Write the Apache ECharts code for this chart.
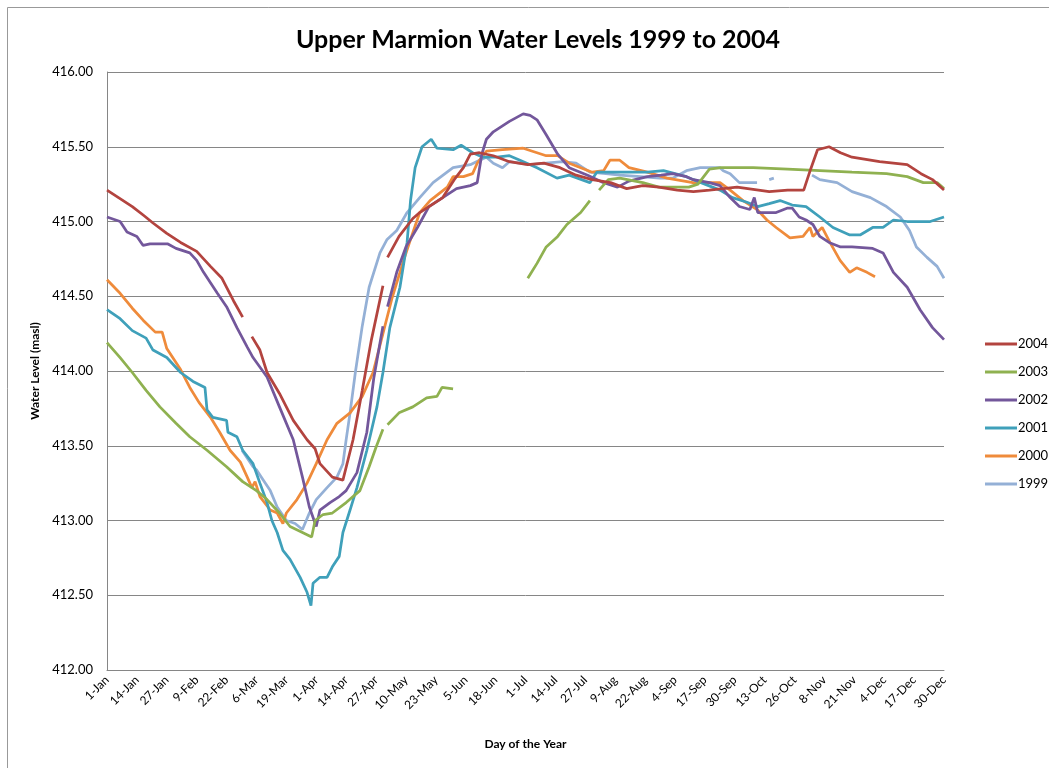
<!DOCTYPE html>
<html>
<head>
<meta charset="utf-8">
<script src="https://cdn.jsdelivr.net/npm/echarts@6/dist/echarts.min.js"></script>
<style>
  html, body { margin: 0; padding: 0; background: #fff; }
  #chart { width: 1049px; height: 768px; }
</style>
</head>
<body>
<div id="chart"></div>
<script>
// tick labels every 13 days (leap-year calendar, day 0 = 1-Jan)
const tickLabels = ['1-Jan', '14-Jan', '27-Jan', '9-Feb', '22-Feb', '6-Mar', '19-Mar', '1-Apr', '14-Apr',
  '27-Apr', '10-May', '23-May', '5-Jun', '18-Jun', '1-Jul', '14-Jul', '27-Jul', '9-Aug', '22-Aug',
  '4-Sep', '17-Sep', '30-Sep', '13-Oct', '26-Oct', '8-Nov', '21-Nov', '4-Dec', '17-Dec', '30-Dec'];

const years = ['2004', '2003', '2002', '2001', '2000', '1999'];

// [day of year, level (masl)], null level = gap in record
const level2004 = [[0, 415.21], [5, 415.16], [11, 415.10], [16, 415.04], [20, 414.99], [26, 414.92], [32, 414.86],
  [39, 414.80], [45, 414.70], [50, 414.62], [55, 414.47], [59, 414.36], [60, null],
  [63, 414.23], [66.5, 414.14], [69.6, 413.99], [75, 413.85], [81, 413.67], [87, 413.54], [90.5, 413.48],
  [92.6, 413.38], [98, 413.29], [102.6, 413.27], [107, 413.54], [111, 413.87], [115, 414.21], [120, 414.57], [121, null],
  [122, 414.76], [127, 414.90], [133, 415.02], [136, 415.06], [146, 415.16], [151, 415.28], [155, 415.36],
  [158, 415.45], [162, 415.46], [168, 415.44], [175, 415.40], [183, 415.38], [190, 415.39], [197, 415.36],
  [204, 415.31], [211, 415.28], [219, 415.26], [226, 415.22], [233, 415.24], [240, 415.23], [248, 415.21],
  [255, 415.20], [262, 415.21], [274, 415.23], [288, 415.20], [296, 415.21], [303, 415.21], [306, 415.35],
  [309, 415.48], [314, 415.50], [319, 415.46], [324, 415.43], [336, 415.40], [348, 415.38], [354, 415.32],
  [359, 415.28], [364, 415.21]];

const level2003 = [[0, 414.19], [5.7, 414.09], [11, 413.99], [17, 413.87], [23, 413.76], [30, 413.65], [36, 413.56],
  [43.5, 413.47], [52, 413.36], [59, 413.26], [65, 413.20], [69.6, 413.14], [75, 413.05], [79.6, 412.96],
  [85, 412.92], [89, 412.89], [90.5, 413.00], [94, 413.04], [98, 413.05], [104, 413.12], [110, 413.20],
  [114, 413.36], [117, 413.49], [120, 413.61], [121, null],
  [122, 413.64], [127, 413.72], [133, 413.76], [139, 413.82], [143.5, 413.83], [145.7, 413.89], [150.5, 413.88], [151, null],
  [183, 414.62], [187, 414.72], [191, 414.83], [196, 414.90], [200, 414.98], [206, 415.06], [210, 415.14], [212, null],
  [214, 415.21], [218, 415.28], [223, 415.29], [233, 415.26], [240, 415.23], [253, 415.23], [257, 415.25],
  [262, 415.35], [267, 415.36], [281, 415.36], [296, 415.35], [310, 415.34], [324, 415.33], [339, 415.32],
  [348, 415.30], [355, 415.26], [361, 415.26], [364, 415.22]];

const level2002 = [[0, 415.03], [5.7, 415.00], [8.7, 414.93], [13, 414.90], [15.7, 414.84], [18.7, 414.85],
  [26.5, 414.85], [30, 414.82], [36, 414.79], [39, 414.74], [42, 414.66], [48, 414.52], [52, 414.43],
  [56.5, 414.29], [61, 414.16], [63.5, 414.09], [69.6, 413.96], [75, 413.76], [81, 413.54], [85, 413.29],
  [88, 413.09], [91, 412.96], [92.6, 413.07], [97, 413.12], [101, 413.16], [104, 413.20], [108.7, 413.32],
  [113, 413.59], [116, 413.95], [120, 414.30], [121, null],
  [122, 414.43], [126, 414.66], [130, 414.83], [135, 414.96], [140, 415.10], [146, 415.16], [152, 415.22],
  [158, 415.24], [161, 415.26], [163, 415.45], [165, 415.55], [168, 415.60], [175, 415.67], [181, 415.72],
  [184, 415.71], [187, 415.68], [191, 415.58], [196, 415.45], [201, 415.36], [209, 415.31], [216, 415.26],
  [222, 415.23], [227, 415.27], [235, 415.30], [241, 415.31], [246, 415.32], [252, 415.30], [255, 415.28],
  [262, 415.26], [266.6, 415.24], [271, 415.16], [275, 415.10], [279.6, 415.08], [281.5, 415.16], [283, 415.06],
  [291, 415.06], [296, 415.09], [298, 415.09], [301, 415.03], [304, 415.01], [307, 414.98], [310, 414.90],
  [314, 414.86], [319, 414.83], [324, 414.83], [333, 414.82], [337.5, 414.79], [342, 414.66], [348, 414.56],
  [353.6, 414.41], [359, 414.29], [364, 414.21]];

const level2001 = [[0, 414.41], [5.7, 414.35], [11, 414.27], [17, 414.22], [20, 414.14], [26, 414.09], [32, 413.99],
  [37.4, 413.93], [42.6, 413.89], [43.5, 413.74], [46, 413.69], [52, 413.67], [52.6, 413.59], [56.5, 413.56],
  [59, 413.47], [63.5, 413.38], [66.5, 413.25], [69.6, 413.12], [71.7, 413.00], [74, 412.92], [76.5, 412.80],
  [79.6, 412.74], [84, 412.62], [87, 412.52], [88.7, 412.43], [89.6, 412.58], [92.6, 412.62], [95.7, 412.62],
  [98, 412.69], [101, 412.76], [102.6, 412.92], [105.7, 413.07], [108.7, 413.22], [113, 413.47], [117.4, 413.76],
  [120, 413.99], [123, 414.29], [127.4, 414.56], [130.5, 414.86], [132, 415.14], [134, 415.36], [137, 415.50],
  [141, 415.55], [143.5, 415.49], [150.5, 415.48], [154, 415.51], [159, 415.46], [163.5, 415.43], [169.6, 415.43],
  [175, 415.44], [179.6, 415.41], [187, 415.36], [195.7, 415.29], [201, 415.31], [210, 415.26], [213, 415.33],
  [226, 415.33], [235, 415.33], [242, 415.34], [252, 415.30], [255, 415.28], [266.6, 415.21], [272, 415.16],
  [278, 415.13], [283, 415.10], [288, 415.12], [292.7, 415.14], [298, 415.11], [304, 415.10], [310, 415.03],
  [315.7, 414.96], [323, 414.91], [327.5, 414.91], [333, 414.96], [337.5, 414.96], [342, 415.01], [348, 415.00],
  [358, 415.00], [364, 415.03]];

const level2000 = [[0, 414.61], [5.7, 414.52], [11, 414.42], [15.7, 414.34], [21, 414.26], [24, 414.26], [26, 414.15],
  [32, 414.01], [36, 413.89], [40, 413.79], [45, 413.69], [49, 413.59], [53.5, 413.47], [58, 413.39], [61, 413.29],
  [63, 413.22], [64.4, 413.26], [66.5, 413.16], [71, 413.07], [74, 413.05], [76.5, 412.98], [78, 413.05],
  [82.6, 413.14], [87, 413.25], [91, 413.38], [95.7, 413.54], [100, 413.65], [105.7, 413.72], [111, 413.83],
  [115.7, 413.99], [120, 414.25], [124, 414.49], [129, 414.74], [132, 414.88], [136, 415.06], [140.5, 415.14],
  [148, 415.23], [150.5, 415.30], [155, 415.30], [159, 415.32], [161, 415.39], [165, 415.47], [172, 415.48],
  [181, 415.49], [185, 415.47], [191, 415.44], [196, 415.44], [201, 415.39], [211, 415.33], [216, 415.34],
  [218.7, 415.41], [223, 415.41], [227, 415.36], [235, 415.33], [243.5, 415.29], [254.8, 415.26], [262, 415.26],
  [266.6, 415.26], [271, 415.21], [276.6, 415.14], [282.7, 415.08], [287, 415.01], [291, 414.96], [297, 414.89],
  [302.7, 414.90], [305.7, 414.96], [307, 414.90], [311, 414.96], [314.4, 414.86], [318.8, 414.74], [323, 414.66],
  [326, 414.69], [330.5, 414.66], [334, 414.63]];

const level1999 = [[58.7, 413.47], [63.5, 413.36], [65, 413.34], [68, 413.27], [71, 413.20], [74, 413.09],
  [78, 413.00], [81.8, 412.98], [85, 412.94], [88, 413.05], [91, 413.14], [95.7, 413.22], [100, 413.29],
  [102.6, 413.38], [104, 413.54], [105.7, 413.72], [108, 413.99], [111, 414.30], [114, 414.56], [118.7, 414.79],
  [121.8, 414.88], [126, 414.94], [130.5, 415.06], [136, 415.16], [141.8, 415.26], [150.5, 415.36], [158, 415.38],
  [162, 415.41], [165, 415.43], [168, 415.39], [172, 415.36], [175, 415.40], [184, 415.38], [191, 415.39],
  [198, 415.40], [204, 415.39], [210, 415.33], [217, 415.32], [223, 415.31], [232, 415.30], [240.5, 415.29],
  [246, 415.29], [252, 415.34], [258, 415.36], [266.6, 415.36], [268, 415.34], [271, 415.32], [275, 415.26],
  [282.7, 415.26], [284, null], [288, 415.28], [290, 415.29], [291, null],
  [306.6, 415.31], [310, 415.28], [317.5, 415.26], [324, 415.20], [332, 415.16], [339, 415.10], [345, 415.03],
  [349, 414.94], [352, 414.83], [356.6, 414.76], [361, 414.70], [364, 414.62]];

const seriesData = [level2004, level2003, level2002, level2001, level2000, level1999];
const colors = ['#B3443F', '#8FB150', '#73579B', '#3FA0BA', '#EF8B3B', '#94B0D6'];

const fontFamily = 'Lato, "Open Sans", sans-serif';

const chart = echarts.init(document.getElementById('chart'));

chart.setOption({
  animation: false,
  color: colors,
  textStyle: { fontFamily: fontFamily },
  title: {
    text: 'Upper Marmion Water Levels 1999 to 2004',
    left: 533,
    top: 22,
    textAlign: 'center',
    textStyle: { fontSize: 25, fontWeight: 'bold', color: '#000', fontFamily: fontFamily }
  },
  legend: {
    orient: 'vertical',
    left: 980,
    top: 332,
    itemWidth: 32,
    itemHeight: 3,
    itemGap: 14,
    icon: 'rect',
    textStyle: { fontSize: 13, color: '#000', lineHeight: 14, padding: [0, 0, 0, -4] },
    data: years
  },
  graphic: [{
    type: 'rect',
    shape: { x: 7.5, y: 7.5, width: 1100, height: 800 },
    style: { fill: 'none', stroke: '#999', lineWidth: 1 },
    silent: true
  }],
  grid: { left: 107, top: 72, right: 105, bottom: 98 },
  xAxis: {
    type: 'value',
    min: 0,
    max: 364,
    interval: 13,
    name: 'Day of the Year',
    nameLocation: 'middle',
    nameGap: 68,
    nameTextStyle: { fontSize: 12, fontWeight: 'bold', color: '#000' },
    axisLine: { show: true, lineStyle: { color: '#868686', width: 1 } },
    axisTick: { show: false },
    splitLine: { show: false },
    axisLabel: {
      rotate: 45,
      fontSize: 12,
      color: '#000',
      margin: 8,
      formatter: v => tickLabels[Math.round(v / 13)] || ''
    }
  },
  yAxis: {
    type: 'value',
    min: 412,
    max: 416,
    interval: 0.5,
    name: 'Water Level (masl)',
    nameLocation: 'middle',
    nameGap: 66,
    nameTextStyle: { fontSize: 12, fontWeight: 'bold', color: '#000' },
    axisLine: { show: true, lineStyle: { color: '#868686', width: 1 } },
    axisTick: { show: false },
    splitLine: { lineStyle: { color: '#868686', width: 1 } },
    axisLabel: {
      fontSize: 13,
      color: '#000',
      margin: 14,
      formatter: v => v.toFixed(2)
    }
  },
  series: years.map((y, i) => ({
    name: y,
    type: 'line',
    data: seriesData[i],
    showSymbol: false,
    symbol: 'none',
    connectNulls: false,
    lineStyle: { width: 2.75, color: colors[i] },
    itemStyle: { color: colors[i] },
    z: 10 - i
  }))
});
</script>
</body>
</html>
